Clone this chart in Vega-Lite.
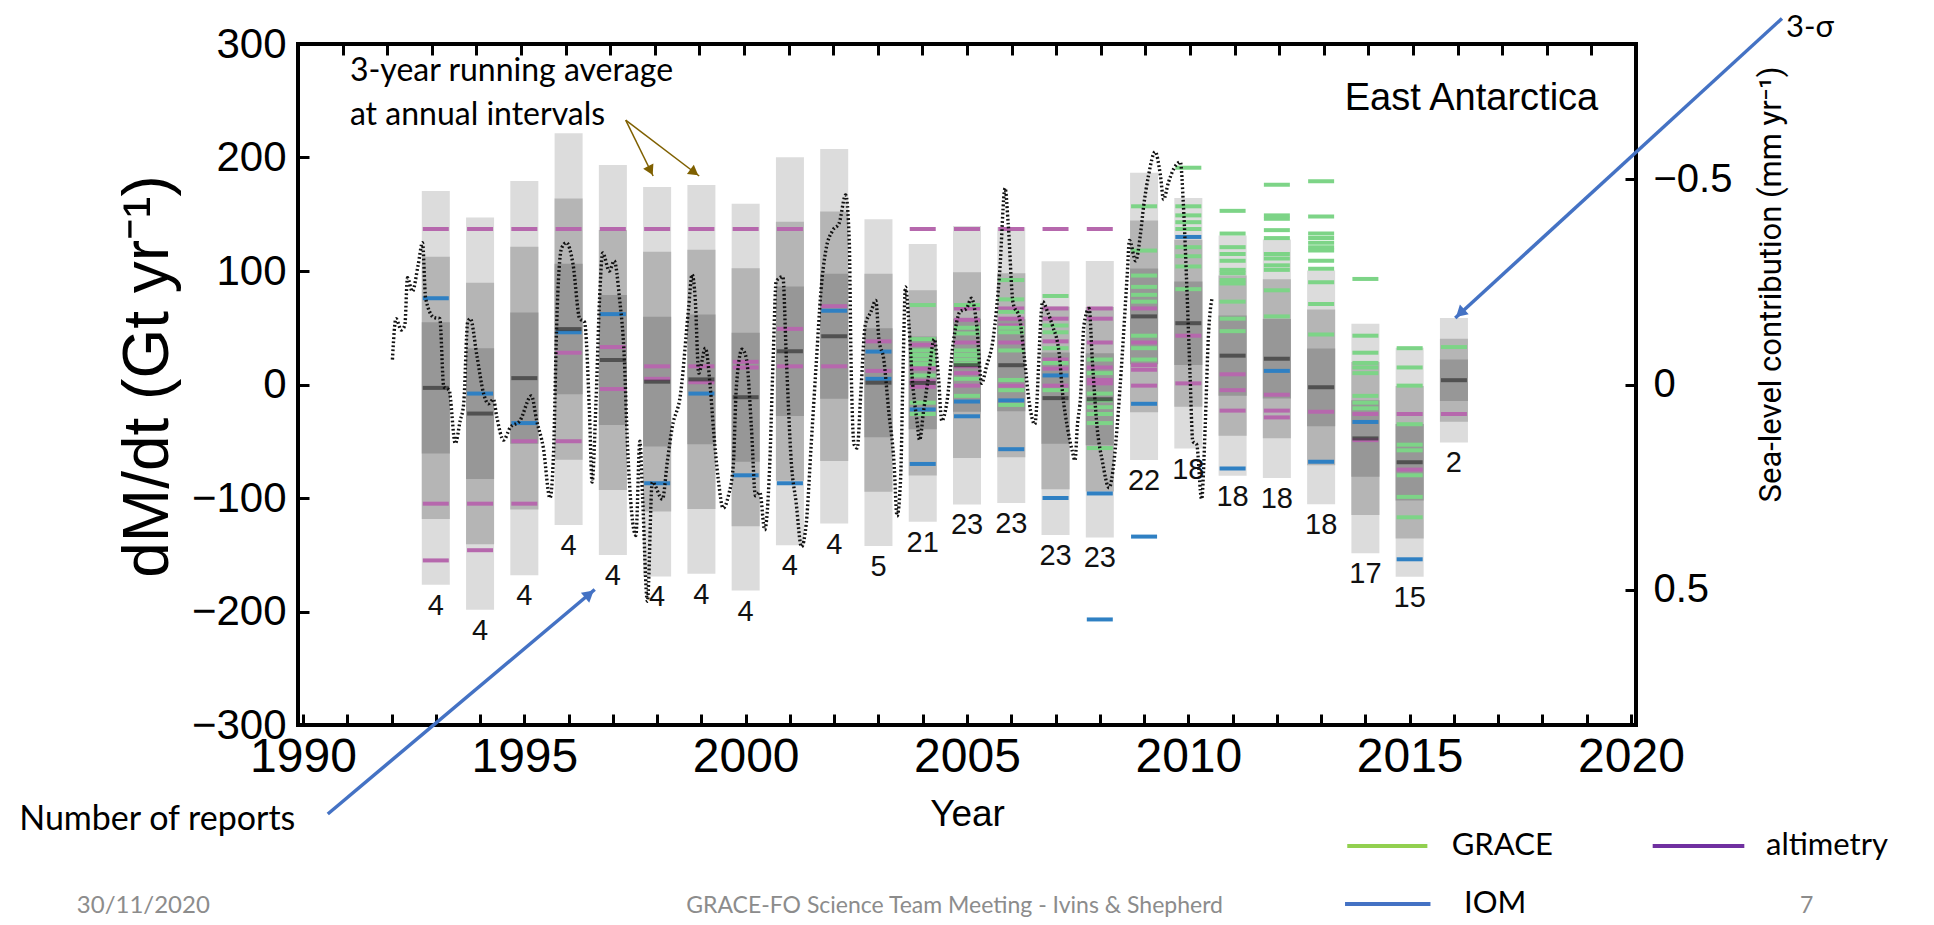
{
  "$schema": "https://vega.github.io/schema/vega-lite/v6.json",
  "width": 1338,
  "height": 681,
  "autosize": {"type": "none"},
  "padding": {"left": 298, "top": 44, "right": 298, "bottom": 200},
  "background": "white",
  "config": {"view": {"stroke": "black", "strokeWidth": 4}, "font": "Liberation Sans"},
  "datasets": {
    "bars": [
      {"year": 1993, "n": 4, "mean": -3.0, "lo3": -176.4, "lo2": -118.6, "lo1": -60.8, "hi1": 54.8, "hi2": 112.6, "hi3": 170.4},
      {"year": 1994, "n": 4, "mean": -25.6, "lo3": -198.4, "lo2": -140.8, "lo1": -83.2, "hi1": 32.0, "hi2": 89.6, "hi3": 147.2},
      {"year": 1995, "n": 4, "mean": 5.6, "lo3": -168.1, "lo2": -110.2, "lo1": -52.3, "hi1": 63.5, "hi2": 121.4, "hi3": 179.3},
      {"year": 1996, "n": 4, "mean": 48.8, "lo3": -123.7, "lo2": -66.2, "lo1": -8.7, "hi1": 106.3, "hi2": 163.8, "hi3": 221.3},
      {"year": 1997, "n": 4, "mean": 21.6, "lo3": -150.3, "lo2": -93.0, "lo1": -35.7, "hi1": 78.9, "hi2": 136.2, "hi3": 193.5},
      {"year": 1998, "n": 4, "mean": 2.5, "lo3": -169.1, "lo2": -111.9, "lo1": -54.7, "hi1": 59.7, "hi2": 116.9, "hi3": 174.1},
      {"year": 1999, "n": 4, "mean": 4.5, "lo3": -166.8, "lo2": -109.7, "lo1": -52.6, "hi1": 61.6, "hi2": 118.7, "hi3": 175.8},
      {"year": 2000, "n": 4, "mean": -11.2, "lo3": -181.6, "lo2": -124.8, "lo1": -68.0, "hi1": 45.6, "hi2": 102.4, "hi3": 159.2},
      {"year": 2001, "n": 4, "mean": 29.3, "lo3": -141.7, "lo2": -84.7, "lo1": -27.7, "hi1": 86.3, "hi2": 143.3, "hi3": 200.3},
      {"year": 2002, "n": 4, "mean": 42.5, "lo3": -122.5, "lo2": -67.5, "lo1": -12.5, "hi1": 97.5, "hi2": 152.5, "hi3": 207.5},
      {"year": 2003, "n": 5, "mean": 1.6, "lo3": -142.4, "lo2": -94.4, "lo1": -46.4, "hi1": 49.6, "hi2": 97.6, "hi3": 145.6},
      {"year": 2004, "n": 21, "mean": 1.4, "lo3": -121.0, "lo2": -80.2, "lo1": -39.4, "hi1": 42.2, "hi2": 83.0, "hi3": 123.8},
      {"year": 2005, "n": 23, "mean": 17.0, "lo3": -105.7, "lo2": -64.8, "lo1": -23.9, "hi1": 57.9, "hi2": 98.8, "hi3": 139.7},
      {"year": 2006, "n": 23, "mean": 17.0, "lo3": -104.5, "lo2": -64.0, "lo1": -23.5, "hi1": 57.5, "hi2": 98.0, "hi3": 138.5},
      {"year": 2007, "n": 23, "mean": -12.0, "lo3": -132.6, "lo2": -92.4, "lo1": -52.2, "hi1": 28.2, "hi2": 68.4, "hi3": 108.6},
      {"year": 2008, "n": 23, "mean": -13.0, "lo3": -134.8, "lo2": -94.2, "lo1": -53.6, "hi1": 27.6, "hi2": 68.2, "hi3": 108.8},
      {"year": 2009, "n": 22, "mean": 60.0, "lo3": -66.6, "lo2": -24.4, "lo1": 17.8, "hi1": 102.2, "hi2": 144.4, "hi3": 186.6},
      {"year": 2010, "n": 18, "mean": 54.0, "lo3": -56.4, "lo2": -19.6, "lo1": 17.2, "hi1": 90.8, "hi2": 127.6, "hi3": 164.4},
      {"year": 2011, "n": 18, "mean": 25.4, "lo3": -80.5, "lo2": -45.2, "lo1": -9.9, "hi1": 60.7, "hi2": 96.0, "hi3": 131.3},
      {"year": 2012, "n": 18, "mean": 22.7, "lo3": -82.3, "lo2": -47.3, "lo1": -12.3, "hi1": 57.7, "hi2": 92.7, "hi3": 127.7},
      {"year": 2013, "n": 18, "mean": -2.5, "lo3": -105.4, "lo2": -71.1, "lo1": -36.8, "hi1": 31.8, "hi2": 66.1, "hi3": 100.4},
      {"year": 2014, "n": 17, "mean": -47.5, "lo3": -148.6, "lo2": -114.9, "lo1": -81.2, "hi1": -13.8, "hi2": 19.9, "hi3": 53.6},
      {"year": 2015, "n": 15, "mean": -68.5, "lo3": -169.3, "lo2": -135.7, "lo1": -102.1, "hi1": -34.9, "hi2": -1.3, "hi3": 32.3},
      {"year": 2016, "n": 2, "mean": 3.8, "lo3": -51.1, "lo2": -32.8, "lo1": -14.5, "hi1": 22.1, "hi2": 40.4, "hi3": 58.7}
    ],
    "ticks": [
      {"year": 1993, "source": "altimetry", "value": 137}, {"year": 1993, "source": "altimetry", "value": -105}, {"year": 1993, "source": "altimetry", "value": -155},
      {"year": 1994, "source": "altimetry", "value": 137}, {"year": 1994, "source": "altimetry", "value": -105}, {"year": 1994, "source": "altimetry", "value": -146},
      {"year": 1995, "source": "altimetry", "value": 137}, {"year": 1995, "source": "altimetry", "value": -50}, {"year": 1995, "source": "altimetry", "value": -105},
      {"year": 1996, "source": "altimetry", "value": 137}, {"year": 1996, "source": "altimetry", "value": 28}, {"year": 1996, "source": "altimetry", "value": -50},
      {"year": 1997, "source": "altimetry", "value": 137}, {"year": 1997, "source": "altimetry", "value": 33}, {"year": 1997, "source": "altimetry", "value": -4},
      {"year": 1998, "source": "altimetry", "value": 137}, {"year": 1998, "source": "altimetry", "value": 16}, {"year": 1998, "source": "altimetry", "value": 5},
      {"year": 1999, "source": "altimetry", "value": 137}, {"year": 1999, "source": "altimetry", "value": 16}, {"year": 1999, "source": "altimetry", "value": 2},
      {"year": 2000, "source": "altimetry", "value": 137}, {"year": 2000, "source": "altimetry", "value": 20}, {"year": 2000, "source": "altimetry", "value": 15},
      {"year": 2001, "source": "altimetry", "value": 137}, {"year": 2001, "source": "altimetry", "value": 49}, {"year": 2001, "source": "altimetry", "value": 16},
      {"year": 2002, "source": "altimetry", "value": 69}, {"year": 2002, "source": "altimetry", "value": 16},
      {"year": 2003, "source": "altimetry", "value": 38}, {"year": 2003, "source": "altimetry", "value": 12},
      {"year": 2004, "source": "altimetry", "value": 137}, {"year": 2004, "source": "altimetry", "value": 35}, {"year": 2004, "source": "altimetry", "value": 14}, {"year": 2004, "source": "altimetry", "value": 3}, {"year": 2004, "source": "altimetry", "value": -2},
      {"year": 2005, "source": "altimetry", "value": 137}, {"year": 2005, "source": "altimetry", "value": 67}, {"year": 2005, "source": "altimetry", "value": 57}, {"year": 2005, "source": "altimetry", "value": 37}, {"year": 2005, "source": "altimetry", "value": 16}, {"year": 2005, "source": "altimetry", "value": 10}, {"year": 2005, "source": "altimetry", "value": -1},
      {"year": 2006, "source": "altimetry", "value": 137}, {"year": 2006, "source": "altimetry", "value": 67}, {"year": 2006, "source": "altimetry", "value": 58}, {"year": 2006, "source": "altimetry", "value": 52}, {"year": 2006, "source": "altimetry", "value": 37}, {"year": 2006, "source": "altimetry", "value": -1},
      {"year": 2007, "source": "altimetry", "value": 137}, {"year": 2007, "source": "altimetry", "value": 67}, {"year": 2007, "source": "altimetry", "value": 58}, {"year": 2007, "source": "altimetry", "value": 38}, {"year": 2007, "source": "altimetry", "value": 22}, {"year": 2007, "source": "altimetry", "value": 14}, {"year": 2007, "source": "altimetry", "value": -1},
      {"year": 2008, "source": "altimetry", "value": 137}, {"year": 2008, "source": "altimetry", "value": 67}, {"year": 2008, "source": "altimetry", "value": 58}, {"year": 2008, "source": "altimetry", "value": 37}, {"year": 2008, "source": "altimetry", "value": 15}, {"year": 2008, "source": "altimetry", "value": 4}, {"year": 2008, "source": "altimetry", "value": 1},
      {"year": 2009, "source": "altimetry", "value": 67}, {"year": 2009, "source": "altimetry", "value": 37}, {"year": 2009, "source": "altimetry", "value": 17}, {"year": 2009, "source": "altimetry", "value": 13}, {"year": 2009, "source": "altimetry", "value": -1},
      {"year": 2010, "source": "altimetry", "value": 43}, {"year": 2010, "source": "altimetry", "value": 1},
      {"year": 2011, "source": "altimetry", "value": 9}, {"year": 2011, "source": "altimetry", "value": -5}, {"year": 2011, "source": "altimetry", "value": -23},
      {"year": 2012, "source": "altimetry", "value": -9}, {"year": 2012, "source": "altimetry", "value": -23}, {"year": 2012, "source": "altimetry", "value": -29},
      {"year": 2013, "source": "altimetry", "value": -24},
      {"year": 2014, "source": "altimetry", "value": -26}, {"year": 2014, "source": "altimetry", "value": -49},
      {"year": 2015, "source": "altimetry", "value": -26}, {"year": 2015, "source": "altimetry", "value": -75},
      {"year": 2016, "source": "altimetry", "value": -26},
      {"year": 2004, "source": "GRACE", "value": 70}, {"year": 2004, "source": "GRACE", "value": 40}, {"year": 2004, "source": "GRACE", "value": 30}, {"year": 2004, "source": "GRACE", "value": 26}, {"year": 2004, "source": "GRACE", "value": 22}, {"year": 2004, "source": "GRACE", "value": 18}, {"year": 2004, "source": "GRACE", "value": 8}, {"year": 2004, "source": "GRACE", "value": -16}, {"year": 2004, "source": "GRACE", "value": -26},
      {"year": 2005, "source": "GRACE", "value": 70}, {"year": 2005, "source": "GRACE", "value": 50}, {"year": 2005, "source": "GRACE", "value": 45}, {"year": 2005, "source": "GRACE", "value": 30}, {"year": 2005, "source": "GRACE", "value": 26}, {"year": 2005, "source": "GRACE", "value": 22}, {"year": 2005, "source": "GRACE", "value": 18}, {"year": 2005, "source": "GRACE", "value": 5}, {"year": 2005, "source": "GRACE", "value": -10},
      {"year": 2006, "source": "GRACE", "value": 92}, {"year": 2006, "source": "GRACE", "value": 75}, {"year": 2006, "source": "GRACE", "value": 64}, {"year": 2006, "source": "GRACE", "value": 50}, {"year": 2006, "source": "GRACE", "value": 46}, {"year": 2006, "source": "GRACE", "value": 30}, {"year": 2006, "source": "GRACE", "value": 4}, {"year": 2006, "source": "GRACE", "value": -5}, {"year": 2006, "source": "GRACE", "value": -18},
      {"year": 2007, "source": "GRACE", "value": 78}, {"year": 2007, "source": "GRACE", "value": 52}, {"year": 2007, "source": "GRACE", "value": 46}, {"year": 2007, "source": "GRACE", "value": 32}, {"year": 2007, "source": "GRACE", "value": 19}, {"year": 2007, "source": "GRACE", "value": -5},
      {"year": 2008, "source": "GRACE", "value": 22}, {"year": 2008, "source": "GRACE", "value": 10}, {"year": 2008, "source": "GRACE", "value": -8}, {"year": 2008, "source": "GRACE", "value": -14}, {"year": 2008, "source": "GRACE", "value": -20}, {"year": 2008, "source": "GRACE", "value": -26}, {"year": 2008, "source": "GRACE", "value": -34}, {"year": 2008, "source": "GRACE", "value": -56},
      {"year": 2009, "source": "GRACE", "value": 157}, {"year": 2009, "source": "GRACE", "value": 118}, {"year": 2009, "source": "GRACE", "value": 96}, {"year": 2009, "source": "GRACE", "value": 86}, {"year": 2009, "source": "GRACE", "value": 79}, {"year": 2009, "source": "GRACE", "value": 73}, {"year": 2009, "source": "GRACE", "value": 43}, {"year": 2009, "source": "GRACE", "value": 32}, {"year": 2009, "source": "GRACE", "value": 22},
      {"year": 2010, "source": "GRACE", "value": 191}, {"year": 2010, "source": "GRACE", "value": 157}, {"year": 2010, "source": "GRACE", "value": 149}, {"year": 2010, "source": "GRACE", "value": 143}, {"year": 2010, "source": "GRACE", "value": 137}, {"year": 2010, "source": "GRACE", "value": 121}, {"year": 2010, "source": "GRACE", "value": 113}, {"year": 2010, "source": "GRACE", "value": 104}, {"year": 2010, "source": "GRACE", "value": 84},
      {"year": 2011, "source": "GRACE", "value": 153}, {"year": 2011, "source": "GRACE", "value": 133}, {"year": 2011, "source": "GRACE", "value": 121}, {"year": 2011, "source": "GRACE", "value": 115}, {"year": 2011, "source": "GRACE", "value": 109}, {"year": 2011, "source": "GRACE", "value": 101}, {"year": 2011, "source": "GRACE", "value": 98}, {"year": 2011, "source": "GRACE", "value": 92}, {"year": 2011, "source": "GRACE", "value": 89}, {"year": 2011, "source": "GRACE", "value": 73}, {"year": 2011, "source": "GRACE", "value": 58}, {"year": 2011, "source": "GRACE", "value": 47},
      {"year": 2012, "source": "GRACE", "value": 176}, {"year": 2012, "source": "GRACE", "value": 149}, {"year": 2012, "source": "GRACE", "value": 146}, {"year": 2012, "source": "GRACE", "value": 136}, {"year": 2012, "source": "GRACE", "value": 129}, {"year": 2012, "source": "GRACE", "value": 115}, {"year": 2012, "source": "GRACE", "value": 111}, {"year": 2012, "source": "GRACE", "value": 105}, {"year": 2012, "source": "GRACE", "value": 101}, {"year": 2012, "source": "GRACE", "value": 83}, {"year": 2012, "source": "GRACE", "value": 60},
      {"year": 2013, "source": "GRACE", "value": 179}, {"year": 2013, "source": "GRACE", "value": 148}, {"year": 2013, "source": "GRACE", "value": 133}, {"year": 2013, "source": "GRACE", "value": 129}, {"year": 2013, "source": "GRACE", "value": 125}, {"year": 2013, "source": "GRACE", "value": 121}, {"year": 2013, "source": "GRACE", "value": 118}, {"year": 2013, "source": "GRACE", "value": 109}, {"year": 2013, "source": "GRACE", "value": 102}, {"year": 2013, "source": "GRACE", "value": 90}, {"year": 2013, "source": "GRACE", "value": 71}, {"year": 2013, "source": "GRACE", "value": 44},
      {"year": 2014, "source": "GRACE", "value": 93}, {"year": 2014, "source": "GRACE", "value": 43}, {"year": 2014, "source": "GRACE", "value": 28}, {"year": 2014, "source": "GRACE", "value": 19}, {"year": 2014, "source": "GRACE", "value": 15}, {"year": 2014, "source": "GRACE", "value": 10}, {"year": 2014, "source": "GRACE", "value": -10}, {"year": 2014, "source": "GRACE", "value": -16}, {"year": 2014, "source": "GRACE", "value": -21},
      {"year": 2015, "source": "GRACE", "value": 32}, {"year": 2015, "source": "GRACE", "value": 15}, {"year": 2015, "source": "GRACE", "value": -1}, {"year": 2015, "source": "GRACE", "value": -35}, {"year": 2015, "source": "GRACE", "value": -53}, {"year": 2015, "source": "GRACE", "value": -58}, {"year": 2015, "source": "GRACE", "value": -80}, {"year": 2015, "source": "GRACE", "value": -99}, {"year": 2015, "source": "GRACE", "value": -117},
      {"year": 2016, "source": "GRACE", "value": 33},
      {"year": 1993, "source": "IOM", "value": 76}, {"year": 1994, "source": "IOM", "value": -8}, {"year": 1995, "source": "IOM", "value": -34}, {"year": 1996, "source": "IOM", "value": 46}, {"year": 1997, "source": "IOM", "value": 62}, {"year": 1998, "source": "IOM", "value": -87}, {"year": 1999, "source": "IOM", "value": -8}, {"year": 2000, "source": "IOM", "value": -80}, {"year": 2001, "source": "IOM", "value": -87}, {"year": 2002, "source": "IOM", "value": 65},
      {"year": 2003, "source": "IOM", "value": 29}, {"year": 2003, "source": "IOM", "value": 5}, {"year": 2004, "source": "IOM", "value": -22}, {"year": 2004, "source": "IOM", "value": -70}, {"year": 2005, "source": "IOM", "value": -15}, {"year": 2005, "source": "IOM", "value": -28}, {"year": 2006, "source": "IOM", "value": -14}, {"year": 2006, "source": "IOM", "value": -57},
      {"year": 2007, "source": "IOM", "value": 8}, {"year": 2007, "source": "IOM", "value": -100}, {"year": 2008, "source": "IOM", "value": -96}, {"year": 2008, "source": "IOM", "value": -207}, {"year": 2009, "source": "IOM", "value": -17}, {"year": 2009, "source": "IOM", "value": -134}, {"year": 2010, "source": "IOM", "value": 130},
      {"year": 2011, "source": "IOM", "value": -74}, {"year": 2012, "source": "IOM", "value": 12}, {"year": 2013, "source": "IOM", "value": -68}, {"year": 2014, "source": "IOM", "value": -33}, {"year": 2015, "source": "IOM", "value": -154}
    ],
    "avg": [
      {"t": 1992.02, "v": 22}, {"t": 1992.10, "v": 58}, {"t": 1992.22, "v": 48}, {"t": 1992.30, "v": 52}, {"t": 1992.36, "v": 94}, {"t": 1992.47, "v": 82}, {"t": 1992.60, "v": 105}, {"t": 1992.70, "v": 125}, {"t": 1992.77, "v": 76}, {"t": 1992.96, "v": 59},
      {"t": 1993.09, "v": 58}, {"t": 1993.18, "v": -2}, {"t": 1993.30, "v": -5}, {"t": 1993.44, "v": -52}, {"t": 1993.55, "v": -32}, {"t": 1993.63, "v": -17}, {"t": 1993.72, "v": 55}, {"t": 1993.78, "v": 58}, {"t": 1993.93, "v": 25},
      {"t": 1994.08, "v": -8}, {"t": 1994.19, "v": -17}, {"t": 1994.30, "v": -13}, {"t": 1994.38, "v": -29}, {"t": 1994.53, "v": -49}, {"t": 1994.68, "v": -38}, {"t": 1994.90, "v": -32},
      {"t": 1995.16, "v": -10}, {"t": 1995.28, "v": -32}, {"t": 1995.43, "v": -56}, {"t": 1995.58, "v": -100}, {"t": 1995.66, "v": -60}, {"t": 1995.73, "v": 52}, {"t": 1995.84, "v": 120}, {"t": 1995.95, "v": 125},
      {"t": 1996.10, "v": 106}, {"t": 1996.25, "v": 58}, {"t": 1996.36, "v": 55}, {"t": 1996.47, "v": -23}, {"t": 1996.53, "v": -86}, {"t": 1996.62, "v": -14}, {"t": 1996.70, "v": 76}, {"t": 1996.77, "v": 116}, {"t": 1996.92, "v": 100},
      {"t": 1997.03, "v": 109}, {"t": 1997.15, "v": 76}, {"t": 1997.26, "v": 22}, {"t": 1997.33, "v": -53}, {"t": 1997.52, "v": -133}, {"t": 1997.61, "v": -50}, {"t": 1997.67, "v": -98}, {"t": 1997.78, "v": -191}, {"t": 1997.89, "v": -86},
      {"t": 1998.12, "v": -101}, {"t": 1998.23, "v": -68}, {"t": 1998.34, "v": -38}, {"t": 1998.53, "v": -8}, {"t": 1998.71, "v": 67}, {"t": 1998.79, "v": 97}, {"t": 1998.86, "v": 76}, {"t": 1998.94, "v": 10},
      {"t": 1999.09, "v": 32}, {"t": 1999.20, "v": -2}, {"t": 1999.27, "v": -38}, {"t": 1999.38, "v": -83}, {"t": 1999.49, "v": -109}, {"t": 1999.61, "v": -98}, {"t": 1999.72, "v": -71}, {"t": 1999.79, "v": -2}, {"t": 1999.92, "v": 31},
      {"t": 2000.02, "v": 22}, {"t": 2000.13, "v": -38}, {"t": 2000.22, "v": -98}, {"t": 2000.32, "v": -95}, {"t": 2000.43, "v": -128}, {"t": 2000.54, "v": -74}, {"t": 2000.62, "v": 22}, {"t": 2000.69, "v": 91}, {"t": 2000.84, "v": 95}, {"t": 2000.92, "v": 22},
      {"t": 2001.03, "v": -68}, {"t": 2001.14, "v": -104}, {"t": 2001.26, "v": -143}, {"t": 2001.37, "v": -122}, {"t": 2001.48, "v": -53}, {"t": 2001.60, "v": 22}, {"t": 2001.70, "v": 82}, {"t": 2001.81, "v": 118}, {"t": 2001.97, "v": 136},
      {"t": 2002.11, "v": 142}, {"t": 2002.26, "v": 167}, {"t": 2002.34, "v": 127}, {"t": 2002.38, "v": 22}, {"t": 2002.45, "v": -53}, {"t": 2002.52, "v": -56}, {"t": 2002.60, "v": -8}, {"t": 2002.70, "v": 52}, {"t": 2002.83, "v": 64}, {"t": 2002.94, "v": 74},
      {"t": 2003.01, "v": 40}, {"t": 2003.12, "v": 22}, {"t": 2003.23, "v": -23}, {"t": 2003.35, "v": -68}, {"t": 2003.42, "v": -116}, {"t": 2003.50, "v": -83}, {"t": 2003.56, "v": 22}, {"t": 2003.61, "v": 86}, {"t": 2003.69, "v": 52}, {"t": 2003.76, "v": 7}, {"t": 2003.87, "v": -32}, {"t": 2003.93, "v": -49},
      {"t": 2004.02, "v": -23}, {"t": 2004.13, "v": 7}, {"t": 2004.26, "v": 40}, {"t": 2004.36, "v": 4}, {"t": 2004.43, "v": -32}, {"t": 2004.54, "v": -17}, {"t": 2004.69, "v": 37}, {"t": 2004.84, "v": 64}, {"t": 2004.99, "v": 67},
      {"t": 2005.10, "v": 76}, {"t": 2005.22, "v": 52}, {"t": 2005.33, "v": 1}, {"t": 2005.44, "v": 16}, {"t": 2005.59, "v": 40}, {"t": 2005.74, "v": 100}, {"t": 2005.86, "v": 173}, {"t": 2005.93, "v": 142},
      {"t": 2006.04, "v": 72}, {"t": 2006.19, "v": 58}, {"t": 2006.30, "v": 22}, {"t": 2006.41, "v": -17}, {"t": 2006.53, "v": -35}, {"t": 2006.71, "v": 73}, {"t": 2006.82, "v": 64}, {"t": 2006.93, "v": 52},
      {"t": 2007.08, "v": 28}, {"t": 2007.16, "v": -8}, {"t": 2007.27, "v": -38}, {"t": 2007.38, "v": -59}, {"t": 2007.44, "v": -67}, {"t": 2007.49, "v": -38}, {"t": 2007.57, "v": -8}, {"t": 2007.64, "v": 52}, {"t": 2007.76, "v": 67}, {"t": 2007.83, "v": 22}, {"t": 2007.94, "v": -38},
      {"t": 2008.06, "v": -68}, {"t": 2008.21, "v": -91}, {"t": 2008.32, "v": -68}, {"t": 2008.39, "v": -38}, {"t": 2008.50, "v": 22}, {"t": 2008.62, "v": 97}, {"t": 2008.67, "v": 127}, {"t": 2008.81, "v": 109}, {"t": 2008.92, "v": 133}, {"t": 2008.99, "v": 157},
      {"t": 2009.10, "v": 184}, {"t": 2009.25, "v": 205}, {"t": 2009.37, "v": 184}, {"t": 2009.44, "v": 163}, {"t": 2009.55, "v": 178}, {"t": 2009.67, "v": 190}, {"t": 2009.82, "v": 196}, {"t": 2009.89, "v": 157}, {"t": 2009.97, "v": 82},
      {"t": 2010.04, "v": 7}, {"t": 2010.10, "v": -50}, {"t": 2010.19, "v": -53}, {"t": 2010.30, "v": -101}, {"t": 2010.38, "v": -38}, {"t": 2010.45, "v": 40}, {"t": 2010.54, "v": 77}
    ]
  },
  "resolve": {"scale": {"x": "independent", "y": "independent"}},
  "layer": [
    {
      "layer": [
        {
          "data": {"name": "bars"},
          "mark": {"type": "bar", "orient": "vertical", "width": 28, "color": "#dcdcdc"},
          "encoding": {
            "x": {"field": "year", "type": "quantitative", "scale": {"domain": [1990, 2020], "nice": false, "zero": false},
              "axis": {"values": [1990,1991,1992,1993,1994,1995,1996,1997,1998,1999,2000,2001,2002,2003,2004,2005,2006,2007,2008,2009,2010,2011,2012,2013,2014,2015,2016,2017,2018,2019,2020],
                "format": "d", "labelExpr": "datum.value % 5 === 0 ? datum.label : ''", "domain": false, "grid": false,
                "tickSize": -11, "tickWidth": 3, "tickColor": "black", "labelFontSize": 48, "labelColor": "black", "labelPadding": 43, "labelBaseline": "middle", "labelFlush": false, "labelOverlap": false,
                "title": "Year", "titleFontSize": 37, "titleFontWeight": "normal", "titleColor": "black", "titleX": 669, "titleY": 89, "titleBaseline": "middle", "titleAlign": "center"}},
            "y": {"field": "lo3", "type": "quantitative", "scale": {"domain": [-300, 300], "nice": false, "zero": false},
              "axis": {"values": [-300, -200, -100, 0, 100, 200, 300], "domain": false, "grid": false,
                "tickSize": -11, "tickWidth": 3, "tickColor": "black", "labelFontSize": 42, "labelColor": "black", "labelPadding": 23, "labelFlush": false, "labelOverlap": false,
                "title": "dM/dt (Gt yr⁻¹)", "titleFontSize": 64, "titleFontWeight": "normal", "titleColor": "black", "titleAngle": -90, "titleX": -150, "titleY": 332, "titleBaseline": "middle", "titleAlign": "center"}},
            "y2": {"field": "hi3"}
          }
        },
        {
          "data": {"name": "bars"},
          "mark": {"type": "bar", "orient": "vertical", "width": 28, "color": "#b5b5b5"},
          "encoding": {
            "x": {"field": "year", "type": "quantitative", "scale": {"domain": [1990, 2020], "nice": false, "zero": false}},
            "y": {"field": "lo2", "type": "quantitative", "scale": {"domain": [-300, 300], "nice": false, "zero": false}},
            "y2": {"field": "hi2"}
          }
        },
        {
          "data": {"name": "bars"},
          "mark": {"type": "bar", "orient": "vertical", "width": 28, "color": "#979797"},
          "encoding": {
            "x": {"field": "year", "type": "quantitative", "scale": {"domain": [1990, 2020], "nice": false, "zero": false}},
            "y": {"field": "lo1", "type": "quantitative", "scale": {"domain": [-300, 300], "nice": false, "zero": false}},
            "y2": {"field": "hi1"}
          }
        },
        {
          "data": {"name": "ticks"},
          "mark": {"type": "tick", "orient": "horizontal", "size": 26, "thickness": 4, "opacity": 1},
          "encoding": {
            "x": {"field": "year", "type": "quantitative", "scale": {"domain": [1990, 2020], "nice": false, "zero": false}},
            "y": {"field": "value", "type": "quantitative", "scale": {"domain": [-300, 300], "nice": false, "zero": false}},
            "color": {"field": "source", "type": "nominal", "scale": {"domain": ["altimetry", "GRACE", "IOM"], "range": ["#b668ad", "#7dd487", "#2f80c3"]}, "legend": null}
          }
        },
        {
          "data": {"name": "bars"},
          "mark": {"type": "tick", "orient": "horizontal", "size": 26, "thickness": 4, "color": "#333333"},
          "encoding": {
            "x": {"field": "year", "type": "quantitative", "scale": {"domain": [1990, 2020], "nice": false, "zero": false}},
            "y": {"field": "mean", "type": "quantitative", "scale": {"domain": [-300, 300], "nice": false, "zero": false}}
          }
        },
        {
          "data": {"name": "avg"},
          "mark": {"type": "line", "interpolate": "monotone", "stroke": "#111111", "strokeWidth": 3.4, "strokeDash": [1.8, 2.3]},
          "encoding": {
            "x": {"field": "t", "type": "quantitative", "scale": {"domain": [1990, 2020], "nice": false, "zero": false}},
            "y": {"field": "v", "type": "quantitative", "scale": {"domain": [-300, 300], "nice": false, "zero": false}}
          }
        },
        {
          "data": {"name": "bars"},
          "mark": {"type": "text", "fontSize": 29, "baseline": "top", "align": "center", "dy": 7, "color": "#111111"},
          "encoding": {
            "x": {"field": "year", "type": "quantitative", "scale": {"domain": [1990, 2020], "nice": false, "zero": false}},
            "y": {"field": "lo3", "type": "quantitative", "scale": {"domain": [-300, 300], "nice": false, "zero": false}},
            "text": {"field": "n", "type": "quantitative"}
          }
        },
        {
          "data": {"values": [{"x": 2019.26, "y": 251.5, "text": "East Antarctica"}]},
          "mark": {"type": "text", "fontSize": 38, "align": "right", "baseline": "middle", "color": "black"},
          "encoding": {
            "x": {"field": "x", "type": "quantitative", "scale": {"domain": [1990, 2020], "nice": false, "zero": false}},
            "y": {"field": "y", "type": "quantitative", "scale": {"domain": [-300, 300], "nice": false, "zero": false}},
            "text": {"field": "text"}
          }
        },
        {
          "data": {"values": [
            {"x": 1991.06, "y": 275.8, "text": "3-year running  average"},
            {"x": 1991.06, "y": 237.7, "text": "at annual intervals"}
          ]},
          "mark": {"type": "text", "font": "Lato", "fontSize": 32, "align": "left", "baseline": "middle", "color": "black"},
          "encoding": {
            "x": {"field": "x", "type": "quantitative", "scale": {"domain": [1990, 2020], "nice": false, "zero": false}},
            "y": {"field": "y", "type": "quantitative", "scale": {"domain": [-300, 300], "nice": false, "zero": false}},
            "text": {"field": "text"}
          }
        },
        {
          "data": {"values": [
            {"x": 1983.59, "y": -383.7, "text": "Number of reports"}
          ]},
          "mark": {"type": "text", "font": "Lato", "fontSize": 34, "align": "left", "baseline": "middle", "color": "black"},
          "encoding": {
            "x": {"field": "x", "type": "quantitative", "scale": {"domain": [1990, 2020], "nice": false, "zero": false}},
            "y": {"field": "y", "type": "quantitative", "scale": {"domain": [-300, 300], "nice": false, "zero": false}},
            "text": {"field": "text"}
          }
        },
        {
          "data": {"values": [
            {"x": 2023.5, "y": 314.5, "text": "3-σ"}
          ]},
          "mark": {"type": "text", "font": "Lato", "fontSize": 31, "align": "left", "baseline": "middle", "color": "black"},
          "encoding": {
            "x": {"field": "x", "type": "quantitative", "scale": {"domain": [1990, 2020], "nice": false, "zero": false}},
            "y": {"field": "y", "type": "quantitative", "scale": {"domain": [-300, 300], "nice": false, "zero": false}},
            "text": {"field": "text"}
          }
        },
        {
          "data": {"values": [
            {"x": 2015.95, "y": -406.6, "text": "GRACE"},
            {"x": 2023.05, "y": -406.6, "text": "altimetry"},
            {"x": 2016.23, "y": -457.7, "text": "IOM"}
          ]},
          "mark": {"type": "text", "font": "Lato", "fontSize": 31, "align": "left", "baseline": "middle", "color": "black"},
          "encoding": {
            "x": {"field": "x", "type": "quantitative", "scale": {"domain": [1990, 2020], "nice": false, "zero": false}},
            "y": {"field": "y", "type": "quantitative", "scale": {"domain": [-300, 300], "nice": false, "zero": false}},
            "text": {"field": "text"}
          }
        },
        {
          "data": {"values": [
            {"x": 1984.89, "y": -459.9, "text": "30/11/2020"}
          ]},
          "mark": {"type": "text", "font": "Lato", "fontSize": 24, "align": "left", "baseline": "middle", "color": "#8c8c8c"},
          "encoding": {
            "x": {"field": "x", "type": "quantitative", "scale": {"domain": [1990, 2020], "nice": false, "zero": false}},
            "y": {"field": "y", "type": "quantitative", "scale": {"domain": [-300, 300], "nice": false, "zero": false}},
            "text": {"field": "text"}
          }
        },
        {
          "data": {"values": [
            {"x": 2004.72, "y": -459.9, "text": "GRACE-FO Science Team Meeting - Ivins & Shepherd"},
            {"x": 2023.97, "y": -459.9, "text": "7"}
          ]},
          "mark": {"type": "text", "font": "Lato", "fontSize": 23, "align": "center", "baseline": "middle", "color": "#8c8c8c"},
          "encoding": {
            "x": {"field": "x", "type": "quantitative", "scale": {"domain": [1990, 2020], "nice": false, "zero": false}},
            "y": {"field": "y", "type": "quantitative", "scale": {"domain": [-300, 300], "nice": false, "zero": false}},
            "text": {"field": "text"}
          }
        },
        {
          "data": {"values": [
            {"x": 1997.29, "y": 233.0, "x2": 1997.91, "y2": 183.7},
            {"x": 1997.29, "y": 233.0, "x2": 1998.95, "y2": 183.7}
          ]},
          "mark": {"type": "rule", "color": "#7f6000", "strokeWidth": 1.5},
          "encoding": {
            "x": {"field": "x", "type": "quantitative", "scale": {"domain": [1990, 2020], "nice": false, "zero": false}},
            "y": {"field": "y", "type": "quantitative", "scale": {"domain": [-300, 300], "nice": false, "zero": false}},
            "x2": {"field": "x2"},
            "y2": {"field": "y2"}
          }
        },
        {
          "data": {"values": [{"x": 1997.85, "y": 188.5}]},
          "mark": {"type": "point", "shape": "triangle-up", "filled": true, "size": 130, "angle": 153.4, "color": "#7f6000", "opacity": 1},
          "encoding": {
            "x": {"field": "x", "type": "quantitative", "scale": {"domain": [1990, 2020], "nice": false, "zero": false}},
            "y": {"field": "y", "type": "quantitative", "scale": {"domain": [-300, 300], "nice": false, "zero": false}}
          }
        },
        {
          "data": {"values": [{"x": 1998.84, "y": 186.9}]},
          "mark": {"type": "point", "shape": "triangle-up", "filled": true, "size": 130, "angle": 127.1, "color": "#7f6000", "opacity": 1},
          "encoding": {
            "x": {"field": "x", "type": "quantitative", "scale": {"domain": [1990, 2020], "nice": false, "zero": false}},
            "y": {"field": "y", "type": "quantitative", "scale": {"domain": [-300, 300], "nice": false, "zero": false}}
          }
        },
        {
          "data": {"values": [
            {"x": 2023.41, "y": 322.5, "x2": 2016.03, "y2": 58.6},
            {"x": 1990.56, "y": -378.4, "x2": 1996.59, "y2": -180.6}
          ]},
          "mark": {"type": "rule", "color": "#4472c4", "strokeWidth": 3.5},
          "encoding": {
            "x": {"field": "x", "type": "quantitative", "scale": {"domain": [1990, 2020], "nice": false, "zero": false}},
            "y": {"field": "y", "type": "quantitative", "scale": {"domain": [-300, 300], "nice": false, "zero": false}},
            "x2": {"field": "x2"},
            "y2": {"field": "y2"}
          }
        },
        {
          "data": {"values": [{"x": 2016.14, "y": 62.8}]},
          "mark": {"type": "point", "shape": "triangle-up", "filled": true, "size": 170, "angle": 227.7, "color": "#4472c4", "opacity": 1},
          "encoding": {
            "x": {"field": "x", "type": "quantitative", "scale": {"domain": [1990, 2020], "nice": false, "zero": false}},
            "y": {"field": "y", "type": "quantitative", "scale": {"domain": [-300, 300], "nice": false, "zero": false}}
          }
        },
        {
          "data": {"values": [{"x": 1996.47, "y": -184.6}]},
          "mark": {"type": "point", "shape": "triangle-up", "filled": true, "size": 170, "angle": 50.2, "color": "#4472c4", "opacity": 1},
          "encoding": {
            "x": {"field": "x", "type": "quantitative", "scale": {"domain": [1990, 2020], "nice": false, "zero": false}},
            "y": {"field": "y", "type": "quantitative", "scale": {"domain": [-300, 300], "nice": false, "zero": false}}
          }
        },
        {
          "data": {"values": [{"src": "GRACE", "x": 2013.59, "x2": 2015.40, "y": -406.6}]},
          "mark": {"type": "rule", "strokeWidth": 4, "color": "#92d050"},
          "encoding": {
            "x": {"field": "x", "type": "quantitative", "scale": {"domain": [1990, 2020], "nice": false, "zero": false}},
            "x2": {"field": "x2"},
            "y": {"field": "y", "type": "quantitative", "scale": {"domain": [-300, 300], "nice": false, "zero": false}}
          }
        },
        {
          "data": {"values": [{"src": "altimetry", "x": 2020.49, "x2": 2022.56, "y": -406.6}]},
          "mark": {"type": "rule", "strokeWidth": 4, "color": "#7030a0"},
          "encoding": {
            "x": {"field": "x", "type": "quantitative", "scale": {"domain": [1990, 2020], "nice": false, "zero": false}},
            "x2": {"field": "x2"},
            "y": {"field": "y", "type": "quantitative", "scale": {"domain": [-300, 300], "nice": false, "zero": false}}
          }
        },
        {
          "data": {"values": [{"src": "IOM", "x": 2013.54, "x2": 2015.47, "y": -457.7}]},
          "mark": {"type": "rule", "strokeWidth": 4, "color": "#4472c4"},
          "encoding": {
            "x": {"field": "x", "type": "quantitative", "scale": {"domain": [1990, 2020], "nice": false, "zero": false}},
            "x2": {"field": "x2"},
            "y": {"field": "y", "type": "quantitative", "scale": {"domain": [-300, 300], "nice": false, "zero": false}}
          }
        }
      ]
    },
    {
      "data": {"values": [{"year": 2000, "slr": 0}]},
      "mark": {"type": "point", "opacity": 0},
      "encoding": {
        "x": {"field": "year", "type": "quantitative", "scale": {"domain": [1990, 2020], "nice": false, "zero": false},
          "axis": {"orient": "top", "values": [1990,1991,1992,1993,1994,1995,1996,1997,1998,1999,2000,2001,2002,2003,2004,2005,2006,2007,2008,2009,2010,2011,2012,2013,2014,2015,2016,2017,2018,2019,2020],
            "labels": false, "domain": false, "grid": false, "tickSize": -11, "tickWidth": 3, "tickColor": "black", "title": null}},
        "y": {"field": "slr", "type": "quantitative", "scale": {"domain": [-0.82873, 0.82873], "reverse": true, "nice": false, "zero": false},
          "axis": {"orient": "right", "values": [-0.5, 0, 0.5], "format": "~g", "domain": false, "grid": false,
            "tickSize": -11, "tickWidth": 3, "tickColor": "black", "labelFontSize": 40, "labelColor": "black", "labelPadding": 28, "labelFlush": false, "labelOverlap": false,
            "title": "Sea-level contribution (mm yr⁻¹)", "titleFont": "Roboto", "titleFontSize": 31, "titleFontWeight": "normal", "titleColor": "black",
            "titleAngle": -90, "titleX": 135, "titleY": 240, "titleBaseline": "middle", "titleAlign": "center"}}
      }
    }
  ]
}
